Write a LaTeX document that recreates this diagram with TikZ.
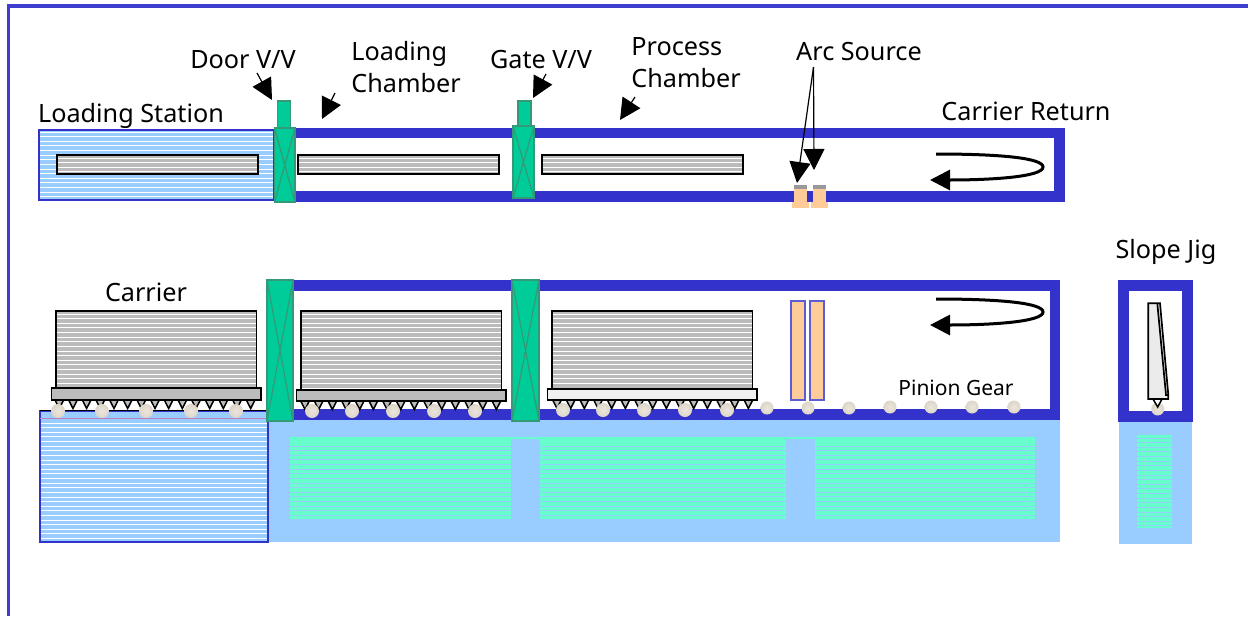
\documentclass[tikz,border=0pt]{standalone}
\usepackage{fontspec}
\setmainfont{Noto Sans}
\usetikzlibrary{arrows.meta}
\definecolor{framecol}{HTML}{3333CC}
\definecolor{skycol}{HTML}{99CCFF}
\definecolor{valvecol}{HTML}{00CC99}
\definecolor{valveline}{HTML}{339977}
\definecolor{mintcol}{HTML}{66FFCC}
\definecolor{mintline}{HTML}{99CCFF}
\definecolor{peachcol}{HTML}{FFCC99}
\definecolor{steelcol}{HTML}{BBBBBB}
\definecolor{rollcol}{HTML}{DDD5C8}
\tikzset{
    lbl/.style={font=\fontsize{12.6}{16}\selectfont,inner sep=0pt,align=left},
    wall/.style={draw=framecol,line width=5.25pt,miter limit=10},
    valve/.style={fill=valvecol,draw=valveline,line width=0.6pt},
    steelline/.style={draw=black,line width=0.85pt},
    tooth/.style={fill=steelcol,draw=black,line width=0.75pt},
    roller/.style={inner color=rollcol!60,outer color=rollcol,draw=none},
    source/.style={fill=peachcol,draw=framecol!80,line width=0.6pt},
    point/.style={-{Triangle[length=10.5pt,width=10.5pt]},line width=0.6pt},
    turn/.style={-{Triangle[length=10pt,width=10pt]},line width=1.5pt}
}
% x1,y1,x2,y2,first line,background,line colour
\newcommand{\stripebox}[7]{
    \fill[#6] (#1,#2) rectangle (#3,#4);
    \pgfmathtruncatemacro{\nlines}{(#4-#5)/4.62}
    \foreach \k in {0,...,\nlines} {
        \draw[#7,line width=0.4pt] (#1,{#5+\k*4.62}) -- (#3,{#5+\k*4.62});
    }
}
\newcommand{\valvebox}[4]{
    \draw[valve] (#1,#2) rectangle (#3,#4);
    \draw[valve] (#1,#2) -- (#3,#4) (#3,#2) -- (#1,#4);
}
\newcommand{\teethrow}[2]{
    \foreach \k in {0,...,14} {
        \draw[tooth] ({#1+\k*13.67-4.3},#2) -- ({#1+\k*13.67+4.3},#2) -- ({#1+\k*13.67},#2+8.5) -- cycle;
    }
}
\newcommand{\carrierbox}[4]{
    \stripebox{#1}{311}{#1+200.5}{#2}{314}{steelcol}{white}
    \draw[steelline] (#1,311) rectangle (#1+200.5,#2);
    \draw[steelline,fill=#4] (#1-4.5,#2) rectangle (#1+205,#3);
}
\begin{document}
\begin{tikzpicture}[x=0.5pt,y=-0.5pt]
    \useasboundingbox (0,0) rectangle (1248,616);
    \draw[framecol!95!white,line width=1.8pt] (8.5,616) -- (8.5,6) -- (1248,6);

    \stripebox{39}{130}{274}{200}{132}{skycol}{white}
    \draw[framecol,line width=0.6pt] (39,130) rectangle (274,200);
    \draw[wall] (295,133) -- (1059.5,133) -- (1059.5,196.5) -- (295,196.5);
    \foreach \x/\w in {57/201,298/201,542/201} {
        \stripebox{\x}{155}{\x+\w}{174}{158}{steelcol}{white}
        \draw[steelline] (\x,155) rectangle (\x+\w,174);
    }
    \draw[valve] (277.5,101) rectangle (290.5,128);
    \valvebox{274.5}{128}{295}{202}
    \draw[valve] (518,101) rectangle (531,126);
    \valvebox{513}{126}{534}{198}
    \foreach \x in {794,813} {
        \fill[peachcol] (\x,189) rectangle (\x+13,202);
        \fill[peachcol] (\x-2,202) rectangle (\x+15,208);
        \fill[black!40] (\x,185) rectangle (\x+13,189);
    }

    \fill[skycol] (268,419) rectangle (1060,542);
    \foreach \x/\w in {290/221,540/246,815/220} {
        \stripebox{\x}{437}{\x+\w}{519}{446}{mintcol}{mintline}
    }
    \fill[mintcol] (511,437) rectangle (540,439);
    \fill[mintcol] (786,437) rectangle (815,439);
    \stripebox{40}{411}{268}{542}{423}{skycol}{white}
    \draw[framecol,line width=0.6pt] (40,411) rectangle (268,542);
    \draw[black,line width=0.5pt] (40,410.5) -- (268,410.5);
    \draw[violet!50,line width=0.5pt] (40,418) -- (268,418);

    \draw[wall] (290,285.5) -- (1055,285.5) -- (1055,414.5) -- (290,414.5);
    \draw[wall] (1123.5,285.5) rectangle (1187.5,416.5);
    \fill[skycol] (1119,422) rectangle (1192,544);
    \stripebox{1137}{435}{1172}{528}{438}{mintcol}{mintline}

    \carrierbox{56}{388}{400}{steelcol}
    \carrierbox{301}{390}{401}{steelcol}
    \carrierbox{552}{389}{400}{black!6}
    \teethrow{59.3}{400}
    \teethrow{305}{401}
    \teethrow{557}{400}
    \foreach \x in {58,102,146,191,236,312,352,393,434,475} {
        \shade[roller] (\x,411) circle (7);
    }
    \foreach \x in {563,603,644,685,727} {
        \shade[roller] (\x,410) circle (7);
    }
    \foreach \x in {767,808,849} {
        \shade[roller] (\x,408) circle (6.5);
    }
    \foreach \x in {890,931,972,1014} {
        \shade[roller] (\x,407) circle (6.5);
    }
    \valvebox{267}{280}{293}{421}
    \valvebox{512}{280}{539}{421}
    \draw[source] (791,301) rectangle (805,400);
    \draw[source] (810,301) rectangle (824,400);

    \shade[roller] (1157.7,409) circle (6.5);
    \draw[tooth,fill=white] (1153,399) -- (1162,399) -- (1157.7,407) -- cycle;
    \draw[steelline,fill=black!8] (1148.3,303.3) -- (1160,303.3) -- (1168.3,395) -- (1168.3,399) -- (1148.3,399) -- cycle;
    \draw[steelline] (1157.3,303.3) -- (1166,395) -- (1168.3,395);

    \node[lbl] (doorlbl) at (243,60) {Door V/V};
    \node[lbl,anchor=west] (loadlbl) at (351,67) {Loading\\Chamber};
    \node[lbl] (gatelbl) at (541,60) {Gate V/V};
    \node[lbl,anchor=west] (proclbl) at (631,63) {Process\\Chamber};
    \node[lbl] (arclbl) at (859,51) {Arc Source};
    \node[lbl] (returnlbl) at (1026,111) {Carrier Return};
    \node[lbl] (stationlbl) at (131,116) {Loading Station};
    \node[lbl] (carrierlbl) at (146,292) {Carrier};
    \node[lbl] (sloplbl) at (1166,252) {Slope Jig};
    \node[lbl,font=\fontsize{10.5}{12}\selectfont] (pinionlbl) at (956,388) {Pinion Gear};

    \coordinate (doorfrom) at (257,73);
    \coordinate (doorto) at (272,100);
    \coordinate (loadfrom) at (335,93);
    \coordinate (loadto) at (322,119);
    \coordinate (gatefrom) at (546,74);
    \coordinate (gateto) at (533,98);
    \coordinate (procfrom) at (635,97);
    \coordinate (procto) at (620,120);
    \coordinate (arcfrom) at (813.5,67);
    \coordinate (arcleft) at (797,183);
    \coordinate (arcright) at (814,170);
    \draw[point] (doorfrom) -- (doorto);
    \draw[point] (loadfrom) -- (loadto);
    \draw[point] (gatefrom) -- (gateto);
    \draw[point] (procfrom) -- (procto);
    \draw[point] (arcfrom) -- (arcleft);
    \draw[point] (arcfrom) -- (arcright);
    \foreach \dy in {0,145} {
        \draw[turn] (936,154+\dy) .. controls (1000,154+\dy) and (1043,158+\dy) .. (1043,167+\dy)
            .. controls (1043,177+\dy) and (990,180+\dy) .. (930,180+\dy);
    }
\end{tikzpicture}
\end{document}
